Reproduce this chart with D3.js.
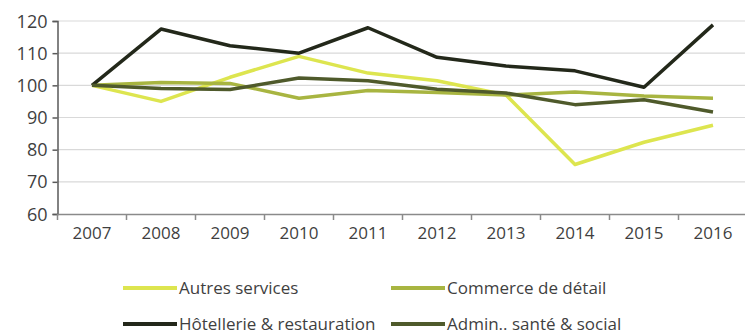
<!DOCTYPE html>
<html><head><meta charset="utf-8">
<script src="https://cdn.jsdelivr.net/npm/d3@7"></script>
<style>body{margin:0;background:#fff}svg{display:block}text{font-family:"Open Sans",sans-serif;fill:#3f3f3f}</style>
</head><body><svg id="c" width="745" height="335"></svg>
<script>
const years = ["2007","2008","2009","2010","2011","2012","2013","2014","2015","2016"];
const autresServices = [100, 95, 102.5, 109, 103.8, 101.4, 97, 75.4, 82.3, 87.6];
const commerceDetail = [100, 100.9, 100.6, 96, 98.4, 97.8, 97, 97.9, 96.7, 96];
const hotellerie = [100, 117.5, 112.3, 110, 117.9, 108.7, 106, 104.5, 99.4, 118.8];
const adminSante = [100, 99, 98.7, 102.3, 101.4, 98.8, 97.6, 94, 95.5, 91.7];
const seriesNames = ["Autres services", "Commerce de détail", "Hôtellerie & restauration", "Admin.. santé & social"];
const yTicks = [60, 70, 80, 90, 100, 110, 120];

const colors = ["#dde54f", "#a8b541", "#23281a", "#4f5a2b"];
const series = [autresServices, commerceDetail, hotellerie, adminSante];

const svg = d3.select("#c");
const x = d3.scaleBand().domain(years).range([57.5, 747.5]);
const y = d3.scaleLinear().domain([60, 120]).range([214, 21]);

// gridlines
svg.append("g").selectAll("line").data(yTicks.filter(d => d > 60)).join("line")
  .attr("x1", 57.5).attr("x2", 745).attr("y1", d => y(d)).attr("y2", d => y(d))
  .attr("stroke", "#d9d9d9").attr("stroke-width", 1.2);

// y axis
const ya = svg.append("g").attr("transform", "translate(57.5,0)")
  .call(d3.axisLeft(y).tickValues(yTicks).tickSize(5).tickPadding(5));
ya.select(".domain").attr("stroke", "#5a5a5a").attr("stroke-width", 1.5);
ya.selectAll(".tick line").attr("stroke", "#5a5a5a").attr("stroke-width", 1.5);
ya.selectAll("text").style("font-size", "18px").style("font-family", "'Open Sans',sans-serif").attr("fill", "#3f3f3f").attr("dy", "0.34em");

// x axis
const xa = svg.append("g").attr("transform", "translate(0,214)")
  .call(d3.axisBottom(x).tickSize(0).tickPadding(13));
xa.select(".domain").attr("stroke", "#8a8a8a").attr("stroke-width", 1.5);
xa.selectAll("text").style("font-size", "17px").style("font-family", "'Open Sans',sans-serif").attr("fill", "#3f3f3f");
const xb = svg.append("g");
xb.selectAll("line").data(years).join("line")
  .attr("x1", d => x(d)).attr("x2", d => x(d)).attr("y1", 214).attr("y2", 220)
  .attr("stroke", "#8a8a8a").attr("stroke-width", 1.5);

// lines
const line = d3.line().x((d, i) => x(years[i]) + x.bandwidth() / 2).y(d => y(d));
series.forEach((s, i) => {
  svg.append("path").datum(s).attr("d", line).attr("fill", "none")
    .attr("stroke", colors[i]).attr("stroke-width", 3.5).attr("stroke-linejoin", "round");
});

// legend
const legPos = [[123, 288], [391, 288], [123, 324], [391, 324]];
seriesNames.forEach((n, i) => {
  const [lx, ly] = legPos[i];
  svg.append("line").attr("x1", lx).attr("x2", lx + 54).attr("y1", ly).attr("y2", ly)
    .attr("stroke", colors[i]).attr("stroke-width", 4);
  svg.append("text").attr("x", lx + 56).attr("y", ly).attr("dy", "0.35em")
    .style("font-size", "17px").text(n);
});
</script></body></html>
